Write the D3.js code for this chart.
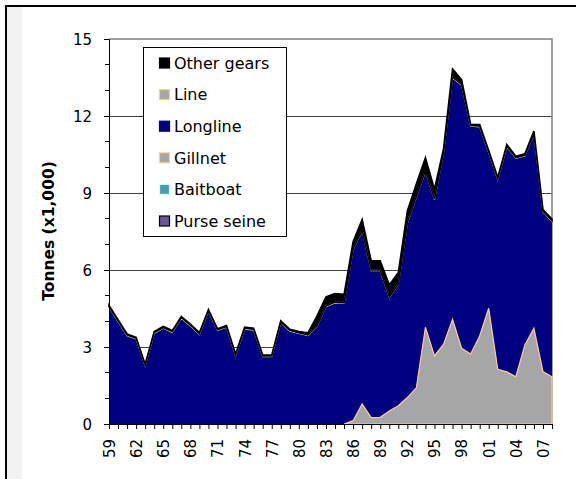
<!DOCTYPE html>
<html><head><meta charset="utf-8">
<script src="https://cdn.jsdelivr.net/npm/d3@7"></script>
<style>html,body{margin:0;padding:0;background:#fff;overflow:hidden}svg{display:block}text{font-family:"DejaVu Sans",Verdana,sans-serif}</style>
</head><body>
<script>
const years = d3.range(1959, 2009);
const xTickLabels = ["59","62","65","68","71","74","77","80","83","86","89","92","95","98","01","04","07"];
const yTicks = [0, 3, 6, 9, 12, 15];
const seriesNames = ["Purse seine", "Baitboat", "Gillnet", "Longline", "Line", "Other gears"];

const purseSeine = new Array(50).fill(0);
const baitboat = new Array(50).fill(0);
const gillnet = [0,0,0,0,0,0,0,0,0,0, 0,0,0,0,0,0,0,0,0,0, 0,0,0,0,0,0,0,
  0.13,0.78,0.25,0.26,0.51,0.71,1.03,1.41,3.77,2.65,3.10,4.08,2.95,2.73,3.43,4.51,2.13,2.03,1.84,3.08,3.73,2.04,1.84];
const longline = [4.55,3.99,3.44,3.31,2.26,3.53,3.73,3.57,4.12,3.82,
  3.49,4.39,3.64,3.77,2.66,3.70,3.66,2.62,2.62,3.95,
  3.62,3.53,3.44,3.79,4.57,4.72,4.70,6.67,6.74,5.72,
  5.71,4.42,4.72,6.79,7.43,6.08,6.08,7.45,9.40,10.25,
  8.87,8.15,6.07,7.40,8.77,8.51,7.36,7.57,6.22,6.06];
const line = [0.03,0.03,0.03,0.03,0.03,0.03,0.03,0.03,0.03,0.03,
  0.03,0.03,0.03,0.03,0.03,0.03,0.03,0.03,0.03,0.03,
  0.03,0.03,0.03,0.03,0.03,0.03,0.03,0.03,0.03,0.03,
  0.03,0.03,0.03,0.03,0.03,0.03,0.03,0.03,0.03,0.03,
  0.03,0.03,0.03,0.03,0.03,0.03,0.03,0.03,0.03,0.03];
const otherGears = [0.04,0.04,0.04,0.04,0.04,0.04,0.04,0.04,0.04,0.04,
  0.04,0.04,0.04,0.04,0.04,0.04,0.04,0.04,0.04,0.04,
  0.04,0.04,0.08,0.38,0.35,0.33,0.32,0.27,0.42,0.36,
  0.36,0.46,0.44,0.45,0.49,0.50,0.39,0.14,0.32,0.19,
  0.05,0.06,0.05,0.05,0.06,0.05,0.06,0.08,0.07,0.05];

const styles = {
  "Purse seine": {fill:"#6b5593", stroke:"#000000"},
  "Baitboat": {fill:"#4a9bb0", stroke:"#ccffff"},
  "Gillnet": {fill:"#a6a6a6", stroke:"#ffcc99"},
  "Longline": {fill:"#000080", stroke:"none"},
  "Line": {fill:"#a6a6a6", stroke:"#e0e07a"},
  "Other gears": {fill:"#000000", stroke:"#000000"}
};

const W = 576, H = 479;
const svg = d3.select("body").append("svg").attr("width", W).attr("height", H);

// frame
svg.append("rect").attr("x",7).attr("y",7).attr("width",15).attr("height",H).attr("fill","#f2f2f2");
svg.append("path").attr("d","M6,480V6H576").attr("fill","none").attr("stroke","#000").attr("stroke-width",2);

const x = d3.scaleLinear().domain([1959, 2008]).range([109, 552]);
const y = d3.scaleLinear().domain([0, 15]).range([424, 39]);

const table = years.map((yr, i) => ({
  year: yr,
  "Purse seine": purseSeine[i], "Baitboat": baitboat[i], "Gillnet": gillnet[i],
  "Longline": longline[i], "Line": line[i], "Other gears": otherGears[i]
}));
const stacked = d3.stack().keys(seriesNames)(table);

// gridlines
svg.append("g").selectAll("line").data([3,6,9,12]).join("line")
  .attr("x1", 109).attr("x2", 552).attr("y1", d => y(d)).attr("y2", d => y(d))
  .attr("stroke", "#404040").attr("stroke-width", 1).attr("shape-rendering","crispEdges");
svg.append("path").attr("d", `M109,${y(15)}H552V${y(0)}`).attr("fill","none")
  .attr("stroke","#808080").attr("stroke-width",1.5);

const area = d3.area().x(d => x(d.data.year)).y0(d => y(d[0])).y1(d => y(d[1]));
const gArea = svg.append("g");
stacked.forEach(s => {
  const st = styles[s.key];
  const a = s.key === "Gillnet" ? area.defined(d => d.data.year >= 1985) : area.defined(() => true);
  gArea.append("path").attr("d", a(s)).attr("fill", st.fill).attr("stroke", "none");
});
stacked.forEach(s => {
  const st = styles[s.key];
  if (st.stroke === "none" || s.key === "Purse seine" || s.key === "Baitboat") return;
  const a = s.key === "Gillnet" ? area.defined(d => d.data.year >= 1985) : area.defined(() => true);
  gArea.append("path").attr("d", a(s)).attr("fill", "none").attr("stroke", st.stroke)
    .attr("stroke-width", s.key === "Other gears" ? 1.6 : 1.2).attr("stroke-linejoin","miter");
});

// axes
const yAxis = d3.axisLeft(y).tickValues(yTicks).tickSize(5).tickFormat(d3.format("d"));
const gy = svg.append("g").attr("transform","translate(109,0)").call(yAxis);
gy.select(".domain").attr("stroke","#000");
gy.selectAll(".tick line").attr("stroke","#000");
gy.selectAll("text").attr("font-size", 15).attr("fill","#000").attr("x", -17).attr("dy","0.36em");
svg.append("g").selectAll("line").data(d3.range(0,16).filter(v => v % 3 !== 0)).join("line")
  .attr("x1",105).attr("x2",109).attr("y1", d => y(d)).attr("y2", d => y(d))
  .attr("stroke","#000").attr("shape-rendering","crispEdges");

const xAxis = d3.axisBottom(x).tickValues(years).tickSize(5)
  .tickFormat(d => { const s = String(d).slice(2); return xTickLabels.includes(s) && (d - 1959) % 3 === 0 ? s : ""; });
const gx = svg.append("g").attr("transform",`translate(0,${y(0)})`).call(xAxis);
gx.select(".domain").attr("stroke","#000");
gx.selectAll(".tick line").attr("stroke","#000");
gx.selectAll("text").attr("font-size", 15).attr("fill","#000")
  .attr("transform","rotate(-90)").attr("text-anchor","end")
  .attr("x", -15).attr("y", 0).attr("dy","0.36em");

// y title
svg.append("text").attr("transform","translate(54,231) rotate(-90)").attr("text-anchor","middle")
  .attr("font-size",15.5).attr("font-weight","bold").text("Tonnes (x1,000)");

// legend
const legendOrder = ["Other gears", "Line", "Longline", "Gillnet", "Baitboat", "Purse seine"];
const lg = svg.append("g");
lg.append("rect").attr("x",143.5).attr("y",47.5).attr("width",143).attr("height",189)
  .attr("fill","#fff").attr("stroke","#000").attr("stroke-width",1);
legendOrder.forEach((k, i) => {
  const cy = 63 + i * 31.6;
  const st = styles[k];
  lg.append("rect").attr("x",159.5).attr("y",cy-5).attr("width",10).attr("height",10)
    .attr("fill", st.fill).attr("stroke", st.stroke === "none" ? st.fill : st.stroke).attr("stroke-width",1.2);
  lg.append("text").attr("x",174).attr("y",cy).attr("dy","0.36em").attr("font-size",16).text(k);
});
</script>
</body></html>
